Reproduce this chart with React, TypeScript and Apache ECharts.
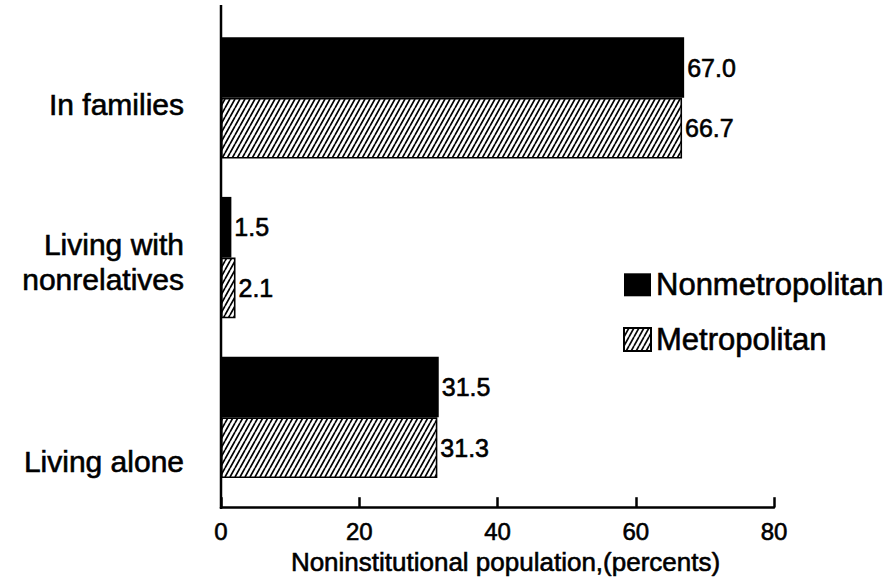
import React, { useEffect, useRef } from "react";
import * as echarts from "echarts";

const categories = ["In families", "Living with\nnonrelatives", "Living alone"];
const nonmetroValues = [67.0, 1.5, 31.5];
const metroValues = [66.7, 2.1, 31.3];
const xTicks = [0, 20, 40, 60, 80];
const seriesNames = ["Nonmetropolitan", "Metropolitan"];
const axisTitle = "Noninstitutional population,(percents)";

const FONT = "'Liberation Sans', Arial, Helvetica, sans-serif";
const THICK = { textBorderColor: "#000", textBorderWidth: 0.6 };

const hatchSvg =
  "<svg xmlns='http://www.w3.org/2000/svg' width='5' height='9'>" +
  "<rect width='5' height='9' fill='white'/>" +
  "<path d='M-5 9 L0 0 M0 9 L5 0 M5 9 L10 0' stroke='black' stroke-width='1.7'/>" +
  "</svg>";
const hatchUrl = "data:image/svg+xml;charset=utf-8," + encodeURIComponent(hatchSvg);

export default function App() {
  const ref = useRef<HTMLDivElement>(null);
  useEffect(() => {
    if (!ref.current) return;
    const chart = echarts.init(ref.current, undefined, { renderer: "svg" });
    const hatch: any = { image: hatchUrl, repeat: "repeat", imageWidth: 5, imageHeight: 9 };
    const labelCfg = {
      show: true,
      position: "right",
      distance: 3,
      color: "#000",
      fontSize: 25,
      fontFamily: FONT,
      ...THICK,
      formatter: (p: any) => Number(p.value).toFixed(1),
    };
    const catText = (text: string, y: number) => ({
      type: "text",
      x: 184,
      y,
      style: {
        text,
        fontSize: 30,
        lineHeight: 35,
        fontFamily: FONT,
        fill: "#000",
        stroke: "#000",
        lineWidth: 0.6,
        align: "right",
        verticalAlign: "middle",
      },
    });
    chart.setOption({
      animation: false,
      backgroundColor: "#fff",
      textStyle: { fontFamily: FONT },
      grid: { left: 221, top: 18, width: 553, height: 480 },
      xAxis: {
        type: "value",
        min: xTicks[0],
        max: xTicks[xTicks.length - 1],
        interval: 20,
        offset: 10,
        axisLine: { show: true, lineStyle: { color: "#000", width: 2.5 } },
        axisTick: { show: true, inside: true, length: 10, lineStyle: { color: "#000", width: 2.5 } },
        splitLine: { show: false },
        axisLabel: { color: "#000", fontSize: 24, margin: 12, fontFamily: FONT, ...THICK },
        name: axisTitle,
        nameLocation: "middle",
        nameGap: 41,
        nameTextStyle: { color: "#000", fontSize: 26, fontFamily: FONT, padding: [0, 0, 0, 16], ...THICK },
      },
      yAxis: {
        type: "category",
        data: categories,
        inverse: true,
        axisLine: { show: false },
        axisTick: { show: false },
        axisLabel: { show: false },
        splitLine: { show: false },
      },
      legend: {
        orient: "vertical",
        left: 623,
        top: 269,
        padding: 0,
        itemWidth: 27,
        itemHeight: 23,
        itemGap: 23,
        icon: "rect",
        textStyle: { color: "#000", fontSize: 31, fontFamily: FONT, ...THICK },
        data: seriesNames,
      },
      series: [
        {
          name: seriesNames[0],
          type: "bar",
          data: nonmetroValues,
          barGap: "0%",
          barCategoryGap: "24%",
          itemStyle: { color: "#000" },
          label: labelCfg,
        },
        {
          name: seriesNames[1],
          type: "bar",
          data: metroValues,
          barGap: "0%",
          barCategoryGap: "24%",
          itemStyle: { color: hatch, borderColor: "#000", borderWidth: 1.6 },
          label: labelCfg,
        },
      ],
      graphic: [
        {
          type: "line",
          shape: { x1: 221, y1: 5, x2: 221, y2: 509 },
          style: { stroke: "#000", lineWidth: 2.5 },
          z: 100,
        },
        catText("In families", 104),
        catText(categories[1], 262),
        catText("Living alone", 461),
      ],
    });
    return () => chart.dispose();
  }, []);
  return (
    <div
      ref={ref}
      style={{ position: "fixed", left: 0, top: 0, width: 893, height: 580, background: "#fff" }}
    />
  );
}
